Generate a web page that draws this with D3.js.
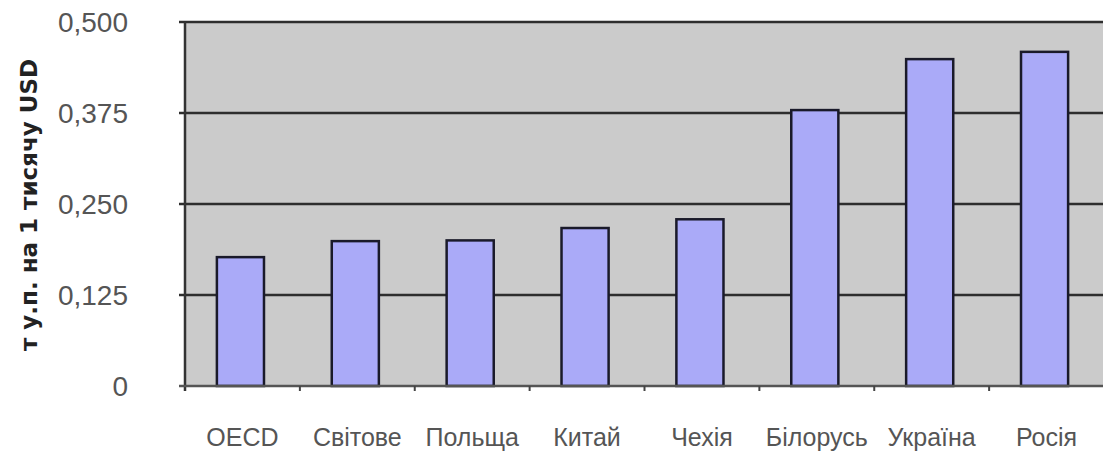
<!DOCTYPE html>
<html>
<head>
<meta charset="utf-8">
<script src="https://cdn.jsdelivr.net/npm/d3@7"></script>
<style>
  body { margin: 0; background: #fff; }
  text { font-family: "Liberation Sans", Arial, sans-serif; }
</style>
</head>
<body>
<svg id="chart" width="1105" height="454"></svg>
<script>
// data
const categories = ['OECD', 'Світове', 'Польща', 'Китай', 'Чехія', 'Білорусь', 'Україна', 'Росія'];
const values     = [0.177, 0.199, 0.200, 0.217, 0.229, 0.379, 0.449, 0.459];
const yTicks     = [0, 0.125, 0.250, 0.375, 0.500];
const yTickLabels = ['0', '0,125', '0,250', '0,375', '0,500'];
const yTitle     = 'т у.п. на 1 тисячу USD';

const LEFT   = 185;
const RIGHT  = 1104;
const TOP    = 22;
const BOTTOM = 386;

const svg = d3.select('#chart');

const x = d3.scaleBand()
    .domain(categories)
    .range([LEFT, RIGHT])
    .padding(0);

const y = d3.scaleLinear()
    .domain([0, 0.5])
    .range([BOTTOM, TOP]);

const barWidth = x.bandwidth() * 0.41;

// plot background
svg.append('rect')
    .attr('x', LEFT)
    .attr('y', TOP)
    .attr('width', RIGHT - LEFT - 1)
    .attr('height', BOTTOM - TOP)
    .attr('fill', '#cbcbcb');

// gridlines (with short ticks to the left of the axis)
svg.append('g')
    .selectAll('line')
    .data(yTicks.filter(d => d > 0))
    .join('line')
    .attr('x1', LEFT - 6)
    .attr('x2', RIGHT - 1)
    .attr('y1', d => y(d))
    .attr('y2', d => y(d))
    .attr('stroke', '#2e2e2e')
    .attr('stroke-width', 2.5);

// bars
svg.append('g')
    .selectAll('rect')
    .data(values)
    .join('rect')
    .attr('x', (d, i) => x(categories[i]) + (x.bandwidth() - barWidth) / 2 - 2)
    .attr('y', d => y(d))
    .attr('width', barWidth)
    .attr('height', d => BOTTOM - y(d))
    .attr('fill', '#aaaaf8')
    .attr('stroke', '#1a1a2a')
    .attr('stroke-width', 2.5);

// y axis line
svg.append('line')
    .attr('x1', LEFT).attr('x2', LEFT)
    .attr('y1', TOP).attr('y2', BOTTOM + 5)
    .attr('stroke', '#333')
    .attr('stroke-width', 2.5);

// x axis line
svg.append('line')
    .attr('x1', LEFT - 6).attr('x2', RIGHT - 1)
    .attr('y1', BOTTOM).attr('y2', BOTTOM)
    .attr('stroke', '#555')
    .attr('stroke-width', 2.5);

// x axis ticks at band boundaries
svg.append('g')
    .selectAll('line')
    .data(categories.slice(1))
    .join('line')
    .attr('x1', d => x(d))
    .attr('x2', d => x(d))
    .attr('y1', BOTTOM)
    .attr('y2', BOTTOM + 5)
    .attr('stroke', '#444')
    .attr('stroke-width', 2);

// y tick labels
svg.append('g')
    .selectAll('text')
    .data(yTicks)
    .join('text')
    .attr('x', 128)
    .attr('y', d => y(d))
    .attr('dy', '0.36em')
    .attr('text-anchor', 'end')
    .attr('font-size', 28)
    .attr('fill', '#555')
    .text((d, i) => yTickLabels[i]);

// x labels
svg.append('g')
    .selectAll('text')
    .data(categories)
    .join('text')
    .attr('x', d => x(d) + x.bandwidth() / 2)
    .attr('y', 446)
    .attr('text-anchor', 'middle')
    .attr('font-size', 25)
    .attr('fill', '#555')
    .text(d => d);

// y title
svg.append('text')
    .attr('transform', `translate(37,${(52 + 358) / 2}) rotate(-90)`)
    .attr('text-anchor', 'middle')
    .attr('font-size', 23)
    .attr('font-weight', 'bold')
    .attr('fill', '#222')
    .style('font-family', '"DejaVu Sans", Verdana, sans-serif')
    .text(yTitle);
</script>
</body>
</html>
